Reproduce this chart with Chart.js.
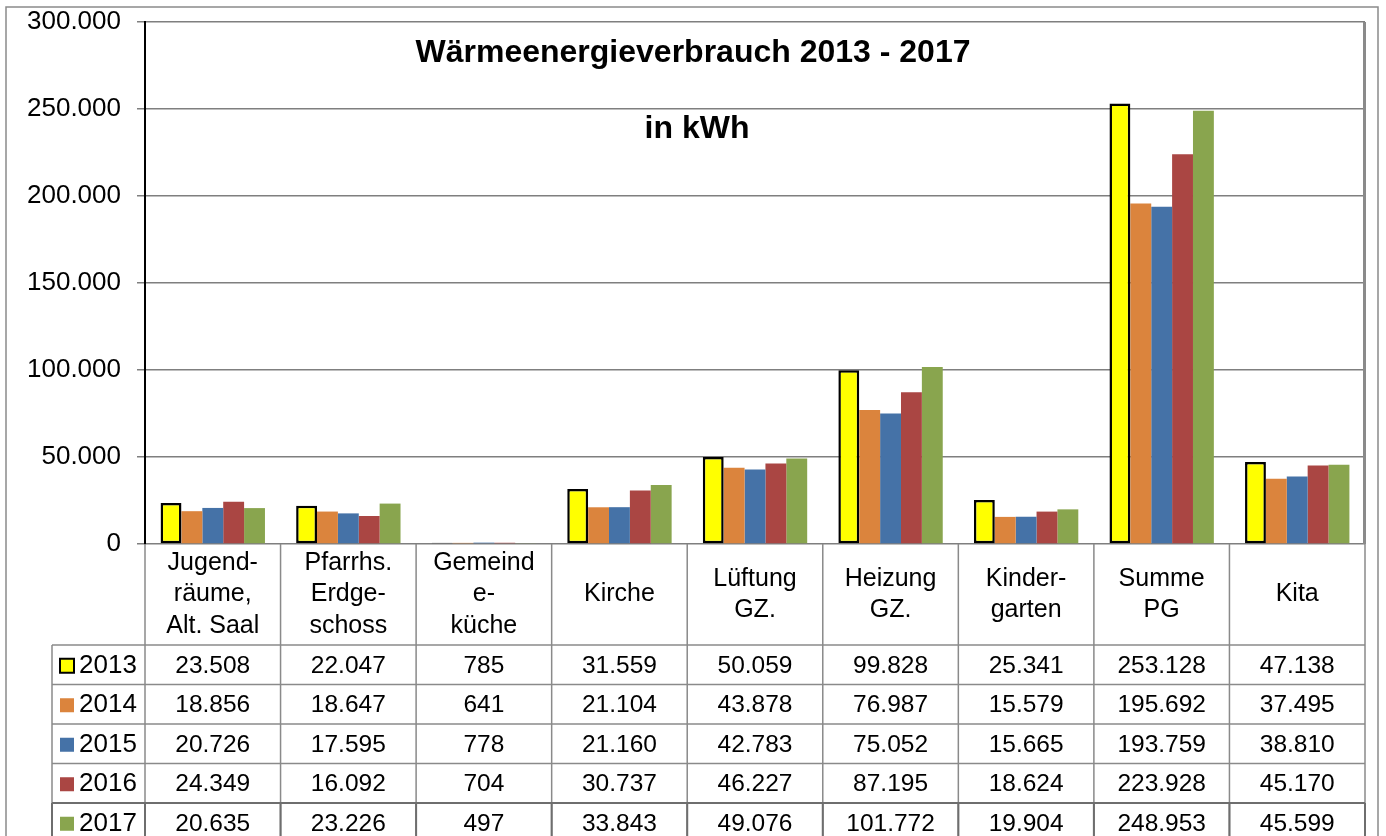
<!DOCTYPE html>
<html lang="de">
<head>
    <meta charset="UTF-8">
    <title>Wärmeenergieverbrauch 2013 - 2017</title>
    <style>
        html, body { margin: 0; padding: 0; background: #fff; }
    </style>
</head>
<body>
    <canvas id="chart" width="1386" height="836"></canvas>

    <script src="https://cdn.jsdelivr.net/npm/chart.js@4.4.0/dist/chart.umd.min.js"></script>

    <script>
        // Kategorien (Zeilenumbrüche wie in der Vorlage)
        const kategorien = [
            ["Jugend-", "räume,", "Alt. Saal"],
            ["Pfarrhs.", "Erdge-", "schoss"],
            ["Gemeind", "e-", "küche"],
            ["Kirche"],
            ["Lüftung", "GZ."],
            ["Heizung", "GZ."],
            ["Kinder-", "garten"],
            ["Summe", "PG"],
            ["Kita"]
        ];
        const jahre = ["2013", "2014", "2015", "2016", "2017"];

        // Verbrauch in kWh
        const werte2013 = [23508, 22047, 785, 31559, 50059, 99828, 25341, 253128, 47138];
        const werte2014 = [18856, 18647, 641, 21104, 43878, 76987, 15579, 195692, 37495];
        const werte2015 = [20726, 17595, 778, 21160, 42783, 75052, 15665, 193759, 38810];
        const werte2016 = [24349, 16092, 704, 30737, 46227, 87195, 18624, 223928, 45170];
        const werte2017 = [20635, 23226, 497, 33843, 49076, 101772, 19904, 248953, 45599];

        const yMax = 300000;
        const yStep = 50000;

        const farben = ['#FFFF00', '#DB843D', '#4572A7', '#AA4643', '#89A54E'];
        const alleWerte = [werte2013, werte2014, werte2015, werte2016, werte2017];

        const schrift = '"Liberation Sans", Arial, sans-serif';
        const linie = '#8a8a8a';

        // 23508 -> "23.508"
        function fmt(v) {
            return String(Math.round(v)).replace(/\B(?=(\d{3})+(?!\d))/g, '.');
        }

        const datasets = jahre.map((j, i) => ({
            label: j,
            data: alleWerte[i],
            backgroundColor: farben[i],
            borderColor: i === 0 ? '#000000' : farben[i],
            borderWidth: i === 0 ? 2.5 : 0,
            borderSkipped: false,
            categoryPercentage: 0.77,
            barPercentage: 1
        }));

        // Titel, Datentabelle und Rahmen
        const tabellePlugin = {
            id: 'tabelle',
            afterDraw(chart) {
                const ctx = chart.ctx;
                const area = chart.chartArea;
                const x = chart.scales.x;
                const n = kategorien.length;
                const breite = (area.right - area.left) / n;
                const kopfHoehe = 101;
                const zeile = 39.5;
                const legLinks = 52;
                const tabOben = area.bottom;
                const datOben = tabOben + kopfHoehe;
                const unten = chart.height + 2;

                ctx.save();

                // äußerer Rahmen
                ctx.strokeStyle = linie;
                ctx.lineWidth = 1.5;
                ctx.strokeRect(6, 7, 1372, 840);

                // rechter Rand der Zeichenfläche
                ctx.lineWidth = 3;
                ctx.beginPath();
                ctx.moveTo(area.right - 0.5, area.top);
                ctx.lineTo(area.right - 0.5, area.bottom);
                ctx.stroke();

                // Tabellenlinien
                ctx.lineWidth = 1.5;
                ctx.beginPath();
                for (let k = 0; k <= n; k++) {
                    const xx = area.left + k * breite;
                    ctx.moveTo(xx, tabOben);
                    ctx.lineTo(xx, unten);
                }
                ctx.moveTo(legLinks, datOben);
                ctx.lineTo(legLinks, unten);
                for (let r = 0; r < jahre.length - 1; r++) {
                    const yy = datOben + r * zeile;
                    ctx.moveTo(legLinks, yy);
                    ctx.lineTo(area.right, yy);
                }
                ctx.stroke();

                // letzte Zeile etwas kräftiger umrandet
                const yLetzte = datOben + (jahre.length - 1) * zeile;
                ctx.strokeStyle = '#6e6e6e';
                ctx.lineWidth = 2;
                ctx.beginPath();
                ctx.moveTo(legLinks, yLetzte);
                ctx.lineTo(area.right, yLetzte);
                ctx.moveTo(legLinks, yLetzte);
                ctx.lineTo(legLinks, unten);
                for (let k = 0; k <= n; k++) {
                    const xx = area.left + k * breite;
                    ctx.moveTo(xx, yLetzte);
                    ctx.lineTo(xx, unten);
                }
                ctx.stroke();

                // Kopfzeile
                ctx.fillStyle = '#000';
                ctx.textAlign = 'center';
                ctx.textBaseline = 'middle';
                ctx.font = '25px ' + schrift;
                const zAbst = 31.5;
                const kopfMitte = tabOben + kopfHoehe / 2;
                kategorien.forEach((zeilen, i) => {
                    const cx = x.getPixelForValue(i);
                    const y0 = kopfMitte - (zeilen.length - 1) * zAbst / 2;
                    zeilen.forEach((t, k) => ctx.fillText(t, cx, y0 + k * zAbst));
                });

                // Datenzeilen
                jahre.forEach((j, r) => {
                    const cy = datOben + r * zeile + zeile / 2 + 1;
                    ctx.textAlign = 'center';
                    ctx.font = '24.5px ' + schrift;
                    alleWerte[r].forEach((v, i) => {
                        ctx.fillText(fmt(v), x.getPixelForValue(i), cy);
                    });
                    // Legendensymbol
                    const sx = 60, s = 14;
                    ctx.fillStyle = farben[r];
                    ctx.fillRect(sx, cy - s / 2, s, s);
                    if (r === 0) {
                        ctx.strokeStyle = '#000';
                        ctx.lineWidth = 2;
                        ctx.strokeRect(sx, cy - s / 2, s, s);
                    }
                    ctx.fillStyle = '#000';
                    ctx.textAlign = 'left';
                    ctx.font = '26px ' + schrift;
                    ctx.fillText(j, 79, cy);
                });

                // Titel
                ctx.textAlign = 'center';
                ctx.font = 'bold 32px ' + schrift;
                ctx.fillText('Wärmeenergieverbrauch 2013 - 2017', 693, 53);
                ctx.fillText('in kWh', 697, 129);

                ctx.restore();
            }
        };

        const config = {
            type: 'bar',
            data: {
                labels: kategorien.map(z => z.join(' ')),
                datasets: datasets
            },
            options: {
                responsive: false,
                animation: false,
                layout: {
                    padding: { top: 22, left: 0, right: 21, bottom: 292 }
                },
                plugins: {
                    legend: { display: false },
                    tooltip: { enabled: false },
                    title: { display: false }
                },
                scales: {
                    x: {
                        display: false
                    },
                    y: {
                        min: 0,
                        max: yMax,
                        afterFit(scale) {
                            scale.width = 145;
                            scale.paddingTop = 0;
                            scale.paddingBottom = 0;
                        },
                        ticks: {
                            stepSize: yStep,
                            color: '#000',
                            padding: 16,
                            font: { family: schrift, size: 26 },
                            callback: v => fmt(v)
                        },
                        grid: {
                            color: '#7f7f7f',
                            lineWidth: 1.5,
                            tickLength: 8
                        },
                        border: { color: '#000', width: 2 }
                    }
                }
            },
            plugins: [tabellePlugin]
        };

        const chart = new Chart(document.getElementById('chart').getContext('2d'), config);
    </script>
</body>
</html>
